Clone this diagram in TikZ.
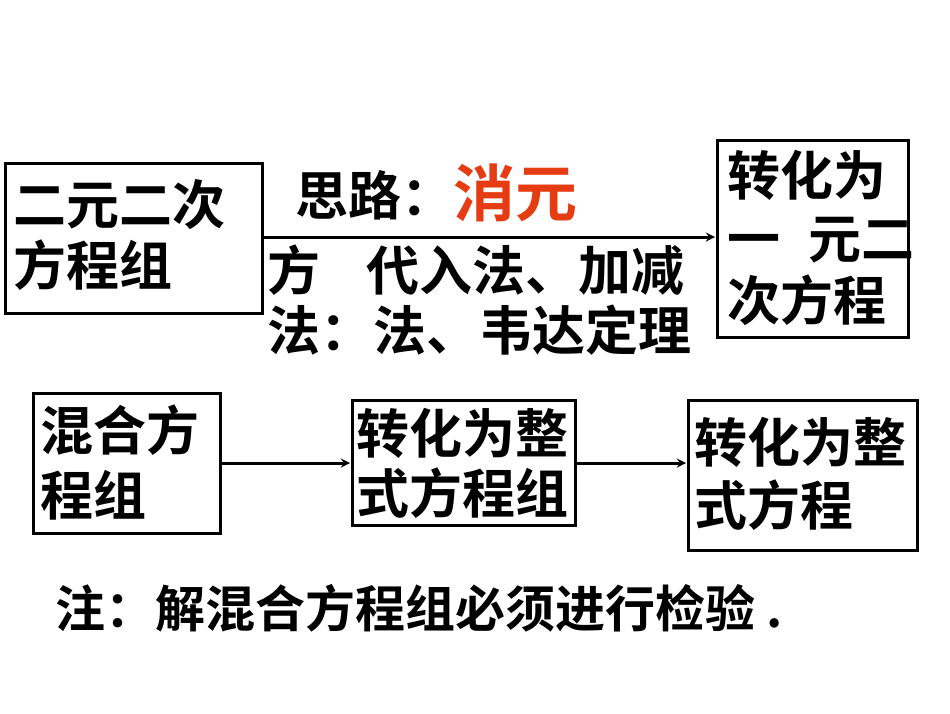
\documentclass[tikz,border=0pt]{standalone}
\usepackage{fontspec}
\newfontfamily\cjk{Noto Sans CJK SC Bold}
\begin{document}
\begin{tikzpicture}[x=1pt,y=-1pt,
  box/.style={draw,line width=3pt},
  txt/.style={anchor=west,inner sep=0pt,font=\cjk\fontsize{53}{53}\selectfont},
  arr/.style={->,line width=3pt,>=stealth}]
\useasboundingbox (0,0) rectangle (950,713);
\draw[box] (5,163) rectangle (262,313);
\node[txt] (a1) at (13,205) {二元二次};
\node[txt] (a2) at (13,265) {方程组};
\draw[box] (717,140) rectangle (908,337);
\node[txt] (b1) at (727,175) {转化为};
\node[txt] (b2) at (727,240) {一\hspace{28pt}元二};
\node[txt] (b3) at (727,300) {次方程};
\coordinate (p1) at (262,237);
\coordinate (p2) at (715,237);
\draw[arr] (p1) -- (p2);
\node[txt] (s1) at (295,195) {思路：};
\node[txt,text={rgb,255:red,230;green,60;blue,20},font=\cjk\fontsize{62}{62}\selectfont] (s2) at (453,193) {消元};
\node[txt] (s3) at (267,270) {方\hspace{46pt}代入法、加减};
\node[txt] (s4) at (267,330) {法：法、韦达定理};
\draw[box] (33,393) rectangle (220,533);
\node[txt] (c1) at (40,430) {混合方};
\node[txt] (c2) at (40,495) {程组};
\draw[box] (352,400) rectangle (575,525);
\node[txt] (d1) at (356,433) {转化为整};
\node[txt] (d2) at (356,493) {式方程组};
\draw[box] (688,400) rectangle (917,550);
\node[txt] (e1) at (694,442) {转化为整};
\node[txt] (e2) at (694,505) {式方程};
\coordinate (q1) at (220,463);
\coordinate (q2) at (350,463);
\coordinate (q3) at (575,463);
\coordinate (q4) at (686,463);
\draw[arr] (q1) -- (q2);
\draw[arr] (q3) -- (q4);
\node[txt,font=\cjk\fontsize{50}{50}\selectfont] (n) at (55,608) {注：解混合方程组必须进行检验 .};
\end{tikzpicture}
\end{document}
